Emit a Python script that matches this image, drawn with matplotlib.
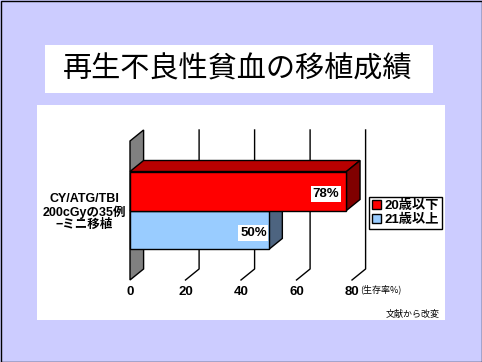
import matplotlib
matplotlib.use("Agg")
import matplotlib.pyplot as plt
from matplotlib.patches import Rectangle, Polygon

# data
categories = ["CY/ATG/TBI\n200cGyの35例\n−ミニ移植"]
groups = ["20歳以下", "21歳以上"]
survival = [78, 50]
value_labels = ["78%", "50%"]
xticks = [0, 20, 40, 60, 80]

front = ["#ff0000", "#99ccff"]
top = ["#b80000", "#7a9ccc"]
side = ["#800000", "#4d6480"]

JP = ["Liberation Sans", "Noto Sans CJK JP"]

W, H = 482, 362
fig = plt.figure(figsize=(W / 100, H / 100), dpi=100)
fig.patch.set_facecolor("#ccccff")


def box(x0, y0, x1, y1, z=-10, **kw):
    # pixel box, measured from the top left
    fig.add_artist(Rectangle((x0 / W, 1 - y1 / H), (x1 - x0) / W, (y1 - y0) / H,
                             transform=fig.transFigure, zorder=z, **kw))


box(0.5, 0.5, W - 0.5, H - 0.5, z=20, facecolor="none", edgecolor="black", lw=1)
box(45, 45, 433, 93, facecolor="white", edgecolor="none")
box(37, 105, 445, 320, facecolor="white", edgecolor="none")

fig.text(238 / W, 1 - 70 / H, "再生不良性貧血の移植成績", ha="center", va="center",
         fontsize=21, family=["Noto Sans CJK JP"])

ax = fig.add_axes([130 / W, 1 - 280 / H, 222 / W, 139 / H])
ax.set_xlim(0, 80)
ax.set_ylim(-0.624, 0.624)
ax.patch.set_visible(False)
for s in ax.spines.values():
    s.set_visible(False)

y0, y1 = ax.get_ylim()
DX, DY = 4.9, 0.099  # depth of the 3d effect

# back wall and grid
ax.add_patch(Polygon([(0, y0), (DX, y0 + DY), (DX, y1 + DY), (0, y1)],
                     facecolor="#808080", edgecolor="black", lw=1, clip_on=False, zorder=1))
for t in xticks[1:]:
    ax.plot([t, t + DX, t + DX], [y0, y0 + DY, y1 + DY], color="black", lw=1,
            clip_on=False, zorder=1)

h = 0.35
pos = [h / 2, -h / 2]
order = [1, 0]  # draw lower bar first
for i in order:
    v, yc = survival[i], pos[i]
    yb, yt = yc - h / 2, yc + h / 2
    ax.add_patch(Polygon([(0, yt), (v, yt), (v + DX, yt + DY), (DX, yt + DY)],
                         facecolor=top[i], edgecolor="black", lw=1, clip_on=False, zorder=2 + 2 * (1 - i)))
    ax.add_patch(Polygon([(v, yb), (v, yt), (v + DX, yt + DY), (v + DX, yb + DY)],
                         facecolor=side[i], edgecolor="black", lw=1, clip_on=False, zorder=2 + 2 * (1 - i)))
    ax.barh(yc, v, height=h, color=front[i], edgecolor="black", lw=1, label=groups[i],
            zorder=3 + 2 * (1 - i), clip_on=False)
    ax.annotate(value_labels[i], (v, yc), xytext=(-7 if i == 0 else -2, -3),
                textcoords="offset pixels", ha="right", va="center", fontsize=9.5,
                fontweight="bold", family=JP, zorder=10,
                bbox=dict(facecolor="white", edgecolor="none", pad=1.2))

ax.set_xticks(xticks)
ax.set_xticklabels([str(t) for t in xticks], fontsize=9.5, fontweight="bold", family=JP)
ax.set_yticks([0])
ax.set_yticklabels(categories, fontsize=9, fontweight="bold", family=JP, linespacing=1.0)
for lbl in ax.get_yticklabels():
    lbl.set_multialignment("center")
ax.tick_params(axis="both", length=0)
ax.tick_params(axis="x", pad=4)
ax.tick_params(axis="y", pad=3)

fig.text(360 / W, 1 - 289 / H, "(生存率%)", ha="left", va="center", fontsize=6.5,
         family=["Noto Sans CJK JP"])
fig.text(440 / W, 1 - 314 / H, "文献から改変", ha="right", va="center", fontsize=6.5,
         family=["Noto Sans CJK JP"])

handles = [Rectangle((0, 0), 1, 1, facecolor=front[i], edgecolor="black", lw=1) for i in range(2)]
leg = fig.legend(handles, groups, loc="center", bbox_to_anchor=(405.5 / W, 1 - 213 / H),
                 bbox_transform=fig.transFigure, frameon=True, fancybox=False,
                 edgecolor="black", framealpha=1, borderpad=0.25, labelspacing=0.15,
                 handlelength=0.65, handleheight=0.65, handletextpad=0.3, borderaxespad=0,
                 prop={"family": JP, "weight": "bold", "size": 9.5})
leg.get_frame().set_linewidth(1)

fig.savefig("out.png", dpi=100, facecolor=fig.get_facecolor())
